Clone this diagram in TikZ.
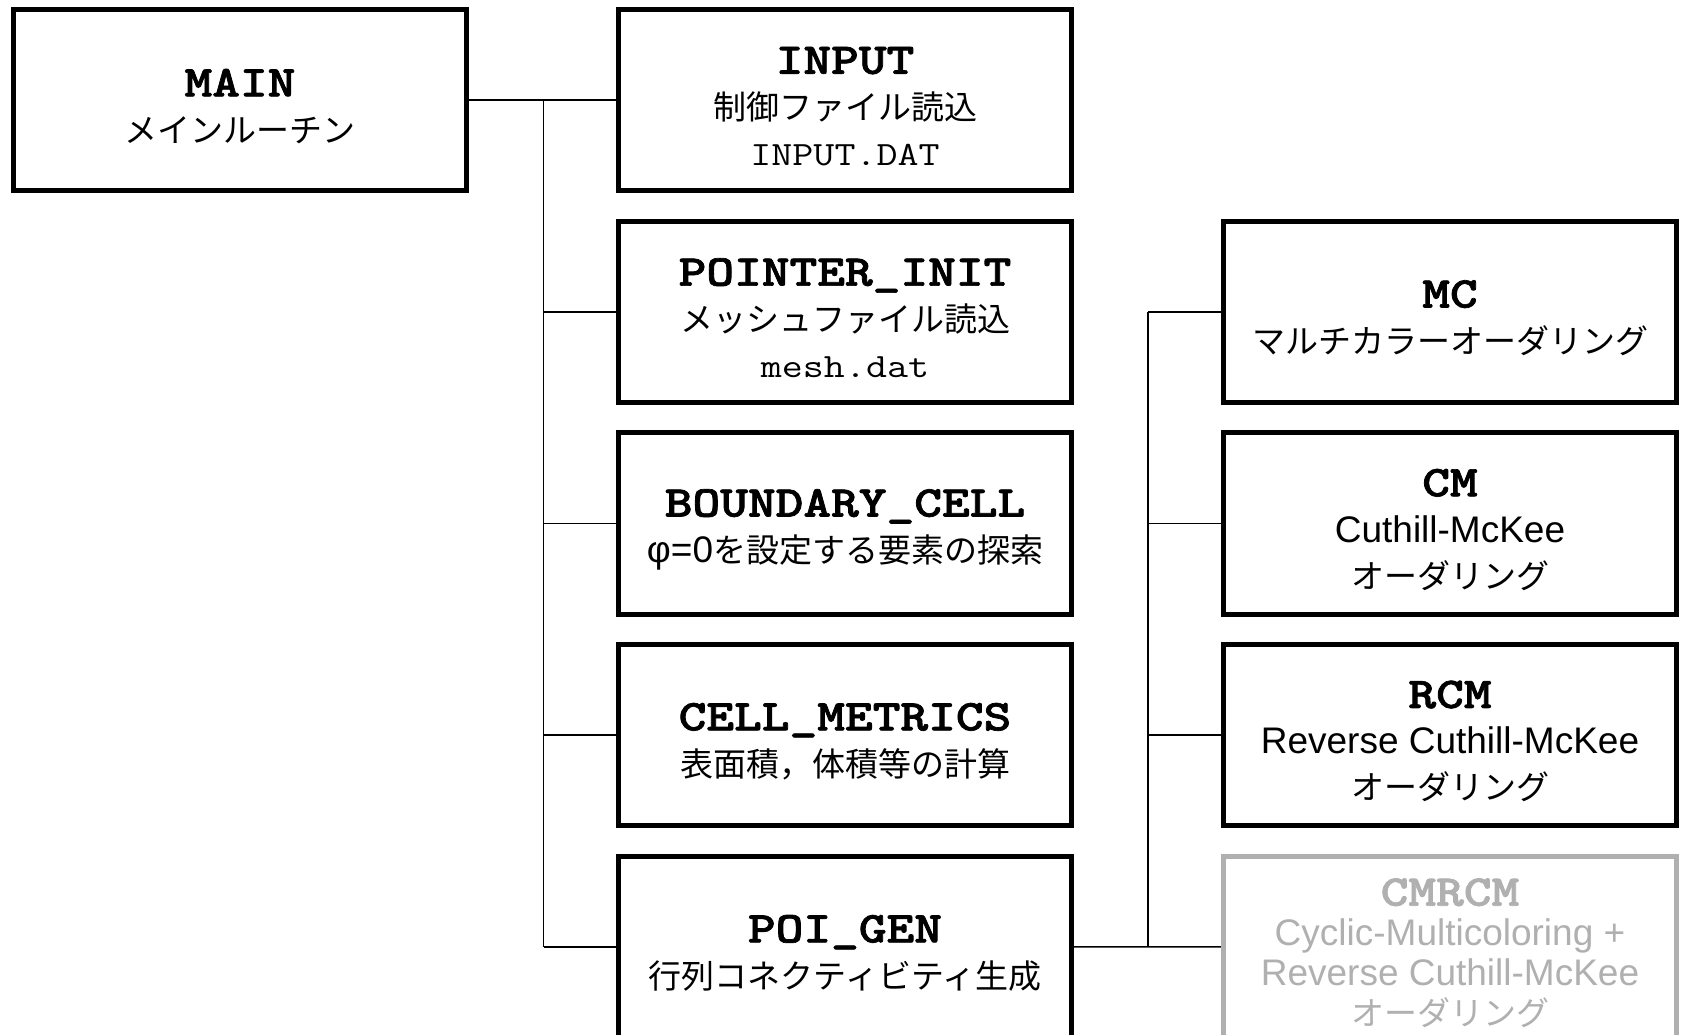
\documentclass[tikz,border=0pt]{standalone}
\usepackage{fontspec}
\usepackage{graphicx}
\setsansfont{Liberation Sans}
\newfontfamily\jpfont{Noto Sans CJK JP}
\newfontfamily\ttbold{lmmonolt10-bold}[Extension=.otf, FakeBold=1.5]
\usetikzlibrary{positioning}
\definecolor{ghostgray}{RGB}{176,176,176}
\newcommand{\ttl}[1]{\rule{0pt}{20pt}\scalebox{1.2}[1]{\fontsize{22}{22}\selectfont\ttbold #1}}
\newcommand{\fname}[1]{\scalebox{1.2}[1]{\fontsize{17}{17}\selectfont\ttfamily #1}}
\newcommand{\lat}[1]{{\fontsize{18.5}{23}\selectfont\sffamily #1}}

\begin{document}
\begin{tikzpicture}[x=0.5pt, y=-0.5pt, node distance=12.65pt,
  every node/.style={font=\jpfont\fontsize{16.5}{23}\selectfont},
  box/.style={draw, line width=2.5pt, minimum width=226.7pt, minimum height=90.7pt, align=center, inner sep=0pt},
  ghost/.style={box, draw=ghostgray, text=ghostgray, font=\jpfont\fontsize{16.5}{20}\selectfont},
  wire/.style={line width=0.8pt}]
\useasboundingbox (0,0) rectangle (1681,1034);
% main routine
\node[box] (main) at (240,100) {\ttl{MAIN}\\メインルーチン};
% subroutines called from MAIN
\node[box] (input) at (845,100) {\ttl{INPUT}\\制御ファイル読込\\\fname{INPUT.DAT}};
\node[box, below=of input] (pointer) {\ttl{POINTER\_INIT}\\メッシュファイル読込\\\fname{mesh.dat}};
\node[box, below=of pointer] (boundary) {\ttl{BOUNDARY\_CELL}\\\lat{φ=0}を設定する要素の探索};
\node[box, below=of boundary] (metrics) {\ttl{CELL\_METRICS}\\表面積，体積等の計算};
\node[box, below=of metrics] (poigen) {\ttl{POI\_GEN}\\行列コネクティビティ生成};
% orderings called from POI_GEN
\node[box] (mc) at (1450,311.7) {\ttl{MC}\\マルチカラーオーダリング};
\node[box, below=of mc] (cm) {\ttl{CM}\\\lat{Cuthill-McKee}\\オーダリング};
\node[box, below=of cm] (rcm) {\ttl{RCM}\\\lat{Reverse Cuthill-McKee}\\オーダリング};
\node[ghost, below=of rcm] (cmrcm) {\ttl{CMRCM}\\\lat{Cyclic-Multicoloring +}\\\lat{Reverse Cuthill-McKee}\\オーダリング};
% tree lines
\coordinate (tr) at (543.5,0);
\coordinate (tr2) at (1148,0);
\draw[wire] (main.east) -- (input.west);
\draw[wire] (tr |- input.west) -- (tr |- poigen.west);
\foreach \n in {pointer,boundary,metrics,poigen} {\draw[wire] (tr |- \n.west) -- (\n.west);}
\draw[wire] (poigen.east) -- (cmrcm.west);
\draw[wire] (tr2 |- mc.west) -- (tr2 |- cmrcm.west);
\foreach \n in {mc,cm,rcm} {\draw[wire] (tr2 |- \n.west) -- (\n.west);}
\end{tikzpicture}
\end{document}
